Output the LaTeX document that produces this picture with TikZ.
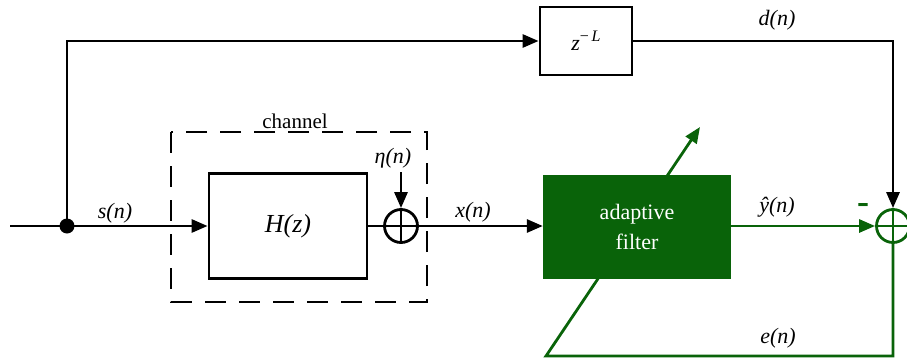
\documentclass[tikz,border=0pt]{standalone}
\usepackage{fontspec}
\setmainfont{Liberation Serif}
\usetikzlibrary{arrows.meta}
\definecolor{fgreen}{RGB}{9,99,9}
\tikzset{
  wire/.style={line width=2.8pt},
  arr/.style={wire,-{Triangle[length=16pt,width=13pt]}},
  garr/.style={arr,draw=fgreen},
  blk/.style={draw,line width=2.8pt,inner sep=0pt},
  lbl/.style={font=\fontsize{22}{24}\selectfont\itshape,inner sep=0pt},
  sumc/.style={draw,circle,line width=2.8pt,minimum size=33pt,inner sep=0pt}
}
\begin{document}
\begin{tikzpicture}[x=1pt,y=-1pt]
\useasboundingbox (0,0) rectangle (907,359);
% dashed channel
\draw[line width=2.8pt,dash pattern=on 21pt off 13pt] (171,132) rectangle (427,302);
\node[font=\fontsize{21}{24}\selectfont,inner sep=0pt] (ch) at (295,121) {channel};
% blocks
\node[blk,minimum width=92pt,minimum height=68pt] (zl) at (586,41) {\fontsize{22}{24}\selectfont\itshape z\raisebox{9pt}{\fontsize{16}{18}\selectfont\upshape −\,\itshape L}};
\node[blk,minimum width=158pt,minimum height=105pt,font=\fontsize{26}{28}\selectfont\itshape] (H) at (288,226) {H(z)};
\node[sumc] (s1) at (401,226) {};
\draw[wire] (s1.north) -- (s1.south) (s1.west) -- (s1.east);
% input
\coordinate (in) at (10,226);
\coordinate (jn) at (67,226);
\coordinate (tl) at (67,41);
\coordinate (nz) at (401,172);
% sum 2 and adaptation arrow (behind the filter)
\node[sumc,draw=fgreen] (s2) at (893,226) {};
\draw[wire,draw=fgreen] (s2.north) -- (s2.south) (s2.west) -- (s2.east);
\coordinate (tr) at (s2.north |- zl.east);
\coordinate (p1) at (546,356);
\coordinate (p2) at (700,127);
\draw[garr] (s2.south) |- (p1) -- (p2);
\node[fill=fgreen,minimum width=188pt,minimum height=104pt,inner sep=0pt,text=white,align=center,font=\fontsize{22}{30}\selectfont] (af) at (637,227) {adaptive\\filter};
% wires
\draw[wire] (in) -- (jn);
\draw[arr] (jn) -- (H.west);
\fill (jn) circle (7.5pt);
\draw[arr] (jn) -- (tl) -- (zl.west);
\draw[arr] (zl.east) -- (tr) -- (s2.north);
\draw[wire] (H.east) -- (s1.west);
\draw[arr] (nz) -- (s1.north);
\draw[arr] (s1.east) -- (af.west |- s1.east);
\draw[garr] (af.east |- s2.west) -- (s2.west);
% labels
\node[lbl] (ls) at (115,213) {s(n)};
\node[lbl] (lx) at (473,212) {x(n)};
\node[lbl] (le) at (393,158) {η(n)};
\node[lbl] (ld) at (777,20) {d(n)};
\node[lbl] (ly) at (777,207) {ŷ(n)};
\node[lbl] (len) at (778,338) {e(n)};
\node[font=\fontsize{36}{36}\selectfont\bfseries,text=fgreen,inner sep=0pt] (mn) at (863,208) {-};
\end{tikzpicture}
\end{document}
